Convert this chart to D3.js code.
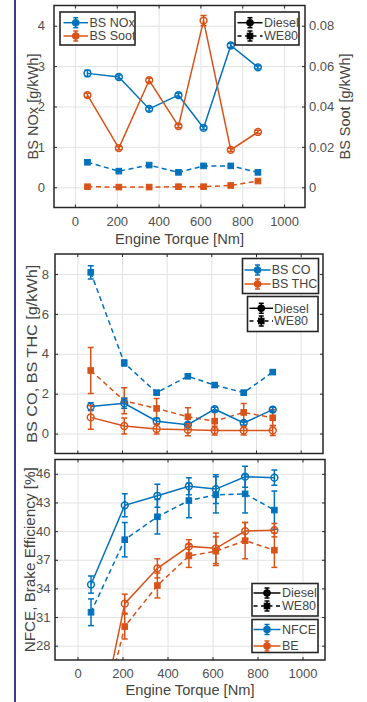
<!DOCTYPE html>
<html lang="en">
<head>
<meta charset="UTF-8">
<title>Emissions and efficiency vs torque</title>
<script src="https://cdn.jsdelivr.net/npm/d3@7"></script>
<style>
  html,body{margin:0;padding:0;background:#fff;}
  svg{display:block;font-family:"Liberation Sans",Arial,Helvetica,sans-serif;}
</style>
</head>
<body>
<svg id="chart" width="367" height="702"></svg>
<script>
// ---- data ----
const torque = [60, 210, 355, 495, 615, 745, 875];
const xTicks = [0, 200, 400, 600, 800, 1000];

const noxDiesel    = [2.82, 2.73, 1.94, 2.28, 1.47, 3.51, 2.97];
const noxDieselErr = [0.08, 0.05, 0.05, 0.05, 0.04, 0.05, 0.04];
const noxWE80      = [0.62, 0.40, 0.55, 0.37, 0.53, 0.53, 0.37];
const noxWE80Err   = [0.04, 0.03, 0.03, 0.03, 0.03, 0.03, 0.03];
const sootDiesel    = [0.0456, 0.0194, 0.0530, 0.0303, 0.0825, 0.0185, 0.0274];
const sootDieselErr = [0.0010, 0.0008, 0.0010, 0.0008, 0.0025, 0.0008, 0.0008];
const sootWE80      = [0.0003, 0.0001, 0.0001, 0.0003, 0.0003, 0.0009, 0.0031];
const sootWE80Err   = [0.0002, 0.0002, 0.0002, 0.0002, 0.0002, 0.0002, 0.0003];

const coDiesel    = [1.35, 1.52, 0.62, 0.44, 1.22, 0.53, 1.20];
const coDieselErr = [0.20, 0.25, 0.15, 0.10, 0.10, 0.10, 0.10];
const coWE80      = [8.08, 3.54, 2.05, 2.87, 2.43, 2.05, 3.08];
const coWE80Err   = [0.33, 0.15, 0.10, 0.10, 0.10, 0.10, 0.10];
const thcDiesel    = [0.81, 0.38, 0.23, 0.19, 0.15, 0.15, 0.15];
const thcDieselErr = [0.60, 0.40, 0.25, 0.30, 0.22, 0.22, 0.25];
const thcWE80      = [3.16, 1.64, 1.26, 0.84, 0.62, 1.06, 0.79];
const thcWE80Err   = [1.15, 0.65, 0.50, 0.45, 0.45, 0.45, 0.40];

const nfceDiesel    = [34.4, 42.7, 43.7, 44.7, 44.4, 45.7, 45.6];
const nfceDieselErr = [0.9, 1.2, 1.2, 0.9, 1.5, 1.1, 0.8];
const nfceWE80      = [31.5, 39.1, 41.5, 43.2, 43.8, 43.9, 42.2];
const nfceWE80Err   = [1.4, 1.8, 1.8, 1.8, 1.9, 2.0, 2.0];
const beDiesel    = [15.5, 32.4, 36.1, 38.4, 38.2, 40.0, 40.1];
const beDieselErr = [1.0, 1.0, 1.0, 0.7, 1.6, 0.9, 0.7];
const beWE80      = [15.8, 30.0, 34.3, 37.4, 37.9, 39.0, 38.0];
const beWE80Err   = [1.0, 1.3, 1.3, 1.2, 1.5, 1.9, 1.8];

// ---- style ----
const ink = "#262626", txt = "#444", tickTxt = "#505050", blue = "#0072BD", orange = "#D95319";
const dashPat = "5,3.5";
const plain = d => String(d);

const svg = d3.select("#chart");

// side bar at the left edge of the screenshot
svg.append("line").attr("x1", 15).attr("x2", 15).attr("y1", 0).attr("y2", 702)
  .attr("stroke", "#3b3b94").attr("stroke-width", 2);

function marker(g, kind, cx, cy, color, filled) {
  if (kind === "o") {
    g.append("circle").attr("cx", cx).attr("cy", cy).attr("r", filled ? 3 : 3.4)
      .attr("fill", filled ? color : "none").attr("stroke", color).attr("stroke-width", 1.5);
  } else {
    g.append("rect").attr("x", cx - 2.8).attr("y", cy - 2.8).attr("width", 5.6).attr("height", 5.6)
      .attr("fill", color).attr("stroke", color).attr("stroke-width", 1);
  }
}

function drawSeries(g, x, y, s) {
  const line = d3.line().x((d, i) => x(torque[i])).y(d => y(d));
  g.append("path").datum(s.v).attr("d", line)
    .attr("fill", "none").attr("stroke", s.color).attr("stroke-width", 1.5)
    .attr("stroke-dasharray", s.dash ? dashPat : null);
  s.v.forEach((v, i) => {
    const cx = x(torque[i]), lo = y(v - s.e[i]), hi = y(v + s.e[i]);
    g.append("line").attr("x1", cx).attr("x2", cx).attr("y1", lo).attr("y2", hi)
      .attr("stroke", s.color).attr("stroke-width", 1.5);
    [lo, hi].forEach(yy => g.append("line").attr("x1", cx - 3).attr("x2", cx + 3)
      .attr("y1", yy).attr("y2", yy).attr("stroke", s.color).attr("stroke-width", 1.5));
    marker(g, s.mark, cx, y(v), s.color, false);
  });
}

function legend(box, rows) {
  const g = svg.append("g");
  g.append("rect").attr("x", box.x).attr("y", box.y).attr("width", box.w).attr("height", box.h)
    .attr("fill", "#fff").attr("stroke", ink).attr("stroke-width", 1.6);
  rows.forEach(r => {
    g.append("line").attr("x1", box.l0).attr("x2", box.l1).attr("y1", r.y).attr("y2", r.y)
      .attr("stroke", r.color).attr("stroke-width", 1.5)
      .attr("stroke-dasharray", r.dash ? "4,3.5" : null);
    const m = (box.l0 + box.l1) / 2;
    g.append("line").attr("x1", m).attr("x2", m).attr("y1", r.y - 5).attr("y2", r.y + 5)
      .attr("stroke", r.color).attr("stroke-width", 1.5);
    [r.y - 5, r.y + 5].forEach(yy => g.append("line").attr("x1", m - 2.5).attr("x2", m + 2.5)
      .attr("y1", yy).attr("y2", yy).attr("stroke", r.color).attr("stroke-width", 1.5));
    marker(g, r.mark, m, r.y, r.color, true);
    g.append("text").attr("x", box.tx).attr("y", r.y).attr("dy", "0.35em")
      .attr("font-size", 12.5).attr("fill", txt).text(r.label);
  });
}

function styleAxis(a) {
  a.select(".domain").remove();
  a.attr("color", ink).attr("font-family", null).attr("font-size", 13);
  a.selectAll("line").attr("stroke-width", 1);
  a.selectAll("text").attr("fill", tickTxt);
}

function title(g, x, y, str, len, rotate) {
  return g.append("text")
    .attr("transform", `translate(${x},${y})` + (rotate ? " rotate(-90)" : ""))
    .attr("text-anchor", "middle").attr("dy", rotate ? "0.35em" : null)
    .attr("font-size", 15).attr("fill", txt)
    .attr("textLength", len).attr("lengthAdjust", "spacingAndGlyphs")
    .text(str);
}

function drawPanel(p) {
  const g = svg.append("g");
  const x = d3.scaleLinear().domain([-100, 1100]).range([p.x0, p.x1]);
  const y = d3.scaleLinear().domain(p.yDom).range([p.y1, p.y0]);
  const y2 = p.y2Dom ? d3.scaleLinear().domain(p.y2Dom).range([p.y1, p.y0]) : null;
  const w = p.x1 - p.x0, h = p.y1 - p.y0;

  svg.append("clipPath").attr("id", "clip" + p.id).append("rect")
    .attr("x", p.x0).attr("y", p.y0).attr("width", w).attr("height", h);

  // grid
  g.append("g").attr("transform", `translate(0,${p.y1})`)
    .call(d3.axisBottom(x).tickValues(xTicks).tickSize(-h).tickFormat(""))
    .call(a => a.select(".domain").remove())
    .selectAll("line").attr("stroke", "#e2e2e2");
  g.append("g").attr("transform", `translate(${p.x0},0)`)
    .call(d3.axisLeft(y).tickValues(p.yTicks).tickSize(-w).tickFormat(""))
    .call(a => a.select(".domain").remove())
    .selectAll("line").attr("stroke", "#e2e2e2");

  // data
  const plot = g.append("g").attr("clip-path", `url(#clip${p.id})`);
  p.series.forEach(s => drawSeries(plot, x, s.right ? y2 : y, s));

  // ticks and labels
  g.append("g").attr("transform", `translate(0,${p.y1})`)
    .call(d3.axisBottom(x).tickValues(xTicks).tickSizeInner(-3).tickSizeOuter(0).tickPadding(9)
      .tickFormat(p.xLabels ? plain : ""))
    .call(styleAxis);
  g.append("g").attr("transform", `translate(0,${p.y0})`)
    .call(d3.axisTop(x).tickValues(xTicks).tickSizeInner(-3).tickSizeOuter(0).tickFormat(""))
    .call(styleAxis);
  g.append("g").attr("transform", `translate(${p.x0},0)`)
    .call(d3.axisLeft(y).tickValues(p.yTicks).tickSizeInner(-3).tickSizeOuter(0).tickPadding(p.pad)
      .tickFormat(plain))
    .call(styleAxis);
  if (y2) {
    g.append("g").attr("transform", `translate(${p.x1},0)`)
      .call(d3.axisRight(y2).tickValues(p.y2Ticks).tickSizeInner(-3).tickSizeOuter(0).tickPadding(4)
        .tickFormat(d => d === 0 ? "0" : d3.format(".2f")(d)))
      .call(styleAxis);
  } else {
    g.append("g").attr("transform", `translate(${p.x1},0)`)
      .call(d3.axisRight(y).tickValues(p.yTicks).tickSizeInner(-3).tickSizeOuter(0).tickFormat(""))
      .call(styleAxis);
  }

  g.append("rect").attr("x", p.x0).attr("y", p.y0).attr("width", w).attr("height", h)
    .attr("fill", "none").attr("stroke", ink).attr("stroke-width", 1.5);

  // titles
  const midY = (p.y0 + p.y1) / 2;
  title(g, p.yLabelX, midY, p.yLabel, p.yLabelLen, true);
  if (p.y2Label) title(g, p.y2LabelX, midY, p.y2Label, p.y2LabelLen, true);
  if (p.xLabels) title(g, (p.x0 + p.x1) / 2, p.xTitleY, "Engine Torque [Nm]", 129, false);
}

// ---- panel 1: NOx / soot ----
drawPanel({
  id: 1, x0: 54, x1: 305, y0: 5.5, y1: 207.5,
  yDom: [-0.5, 4.5], yTicks: [0, 1, 2, 3, 4], pad: 9,
  y2Dom: [-0.01, 0.09], y2Ticks: [0, 0.02, 0.04, 0.06, 0.08],
  yLabel: "BS NOx [g/kWh]", yLabelX: 33, yLabelLen: 106,
  y2Label: "BS Soot [g/kWh]", y2LabelX: 345, y2LabelLen: 106,
  xLabels: true, xTitleY: 244,
  series: [
    {v: noxDiesel, e: noxDieselErr, color: blue, dash: false, mark: "o"},
    {v: noxWE80, e: noxWE80Err, color: blue, dash: true, mark: "s"},
    {v: sootDiesel, e: sootDieselErr, color: orange, dash: false, mark: "o", right: true},
    {v: sootWE80, e: sootWE80Err, color: orange, dash: true, mark: "s", right: true}
  ]
});
legend({x: 60, y: 12, w: 75, h: 33, l0: 63.5, l1: 88, tx: 89.5},
  [{label: "BS NOx", color: blue, mark: "o", y: 22.7},
   {label: "BS Soot", color: orange, mark: "o", y: 36}]);
legend({x: 235, y: 12, w: 64, h: 33, l0: 237.5, l1: 262.5, tx: 264},
  [{label: "Diesel", color: "#000", mark: "o", y: 22.7},
   {label: "WE80", color: "#000", mark: "s", dash: true, y: 36}]);

// ---- panel 2: CO / THC ----
drawPanel({
  id: 2, x0: 55, x1: 323, y0: 254, y1: 453.5,
  yDom: [-1, 9], yTicks: [0, 2, 4, 6, 8], pad: 6,
  yLabel: "BS CO, BS THC [g/kWh]", yLabelX: 31.5, yLabelLen: 178,
  xLabels: false,
  series: [
    {v: coWE80, e: coWE80Err, color: blue, dash: true, mark: "s"},
    {v: thcWE80, e: thcWE80Err, color: orange, dash: true, mark: "s"},
    {v: coDiesel, e: coDieselErr, color: blue, dash: false, mark: "o"},
    {v: thcDiesel, e: thcDieselErr, color: orange, dash: false, mark: "o"}
  ]
});
legend({x: 242.5, y: 258.5, w: 76, h: 35, l0: 244.5, l1: 270.5, tx: 271.7},
  [{label: "BS CO", color: blue, mark: "o", y: 270},
   {label: "BS THC", color: orange, mark: "o", y: 284}]);
legend({x: 247.5, y: 296.5, w: 70.5, h: 35, l0: 249.5, l1: 273, tx: 274},
  [{label: "Diesel", color: "#000", mark: "o", y: 308.3},
   {label: "WE80", color: "#000", mark: "s", dash: true, y: 321}]);

// ---- panel 3: NFCE / BE ----
drawPanel({
  id: 3, x0: 55, x1: 325, y0: 459.5, y1: 660,
  yDom: [26.5, 47.5], yTicks: [28, 31, 34, 37, 40, 43, 46], pad: 4.5,
  yLabel: "NFCE, Brake Efficiency [%]", yLabelX: 29.5, yLabelLen: 185,
  xLabels: true, xTitleY: 695,
  series: [
    {v: nfceWE80, e: nfceWE80Err, color: blue, dash: true, mark: "s"},
    {v: beWE80, e: beWE80Err, color: orange, dash: true, mark: "s"},
    {v: nfceDiesel, e: nfceDieselErr, color: blue, dash: false, mark: "o"},
    {v: beDiesel, e: beDieselErr, color: orange, dash: false, mark: "o"}
  ]
});
legend({x: 252, y: 583.5, w: 66, h: 32.5, l0: 253.5, l1: 280.5, tx: 282},
  [{label: "Diesel", color: "#000", mark: "o", y: 593},
   {label: "WE80", color: "#000", mark: "s", dash: true, y: 606}]);
legend({x: 252, y: 619.5, w: 66, h: 33, l0: 253.5, l1: 280.5, tx: 282},
  [{label: "NFCE", color: blue, mark: "o", y: 629.5},
   {label: "BE", color: orange, mark: "o", y: 646}]);
</script>
</body>
</html>
